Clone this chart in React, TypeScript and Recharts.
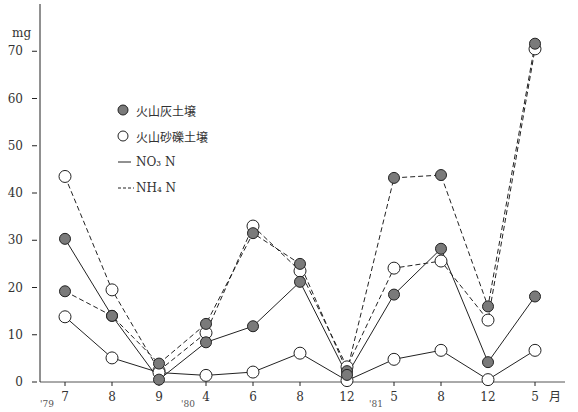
import React from 'react';
import { LineChart, Line, XAxis, YAxis } from 'recharts';

// sampling months, Jul '79 – May '81
const months = ['7', '8', '9', '4', '6', '8', '12', '5', '8', '12', '5'];
const years = ["'79", '', '', "'80", '', '', '', "'81", '', '', ''];

// mg
const ashNO3 = [30.3, 14, 0.5, 8.4, 11.8, 21.2, 1.5, 18.5, 28.2, 4.2, 18.1];
const ashNH4 = [19.2, 14, 3.9, 12.3, 31.5, 25, 2.3, 43.2, 43.8, 16, 71.6];
const gravelNO3 = [13.8, 5.1, 2, 1.4, 2.1, 6.1, 0.3, 4.8, 6.7, 0.5, 6.7];
const gravelNH4 = [43.5, 19.5, 2.4, 10.4, 33, 23.5, 3.2, 24.1, 25.6, 13.1, 70.5];

const yTicks = [0, 10, 20, 30, 40, 50, 60, 70];

const INK = '#222';
const ASH_FILL = '#7a7a7a';
const SERIF = '"DejaVu Serif", "Liberation Serif", serif';
const CJK = '"Noto Sans CJK JP", sans-serif';

const data = months.map((m, i) => ({
  idx: i,
  month: m,
  year: years[i],
  ashNO3: ashNO3[i],
  ashNH4: ashNH4[i],
  gravelNO3: gravelNO3[i],
  gravelNH4: gravelNH4[i],
}));

const AshDot = (props: any) => {
  const { cx, cy } = props;
  if (cx == null || cy == null) return null;
  return <circle cx={cx} cy={cy} r={5.5} fill={ASH_FILL} stroke={INK} strokeWidth={1} />;
};

const GravelDot = (props: any) => {
  const { cx, cy } = props;
  if (cx == null || cy == null) return null;
  return <circle cx={cx} cy={cy} r={6} fill="#fff" stroke={INK} strokeWidth={1} />;
};

const YTick = (props: any) => {
  const { x, y, payload } = props;
  return (
    <g>
      <line x1={x} y1={y} x2={x + 5} y2={y} stroke={INK} strokeWidth={1} />
      <text x={x - 9} y={y + 4} textAnchor="end" fontSize={12} fontFamily={SERIF} fill="#333">
        {payload.value}
      </text>
    </g>
  );
};

const XTick = (props: any) => {
  const { x, y, payload } = props;
  const i = payload.value as number;
  return (
    <g>
      <text x={x} y={y + 13} textAnchor="middle" fontSize={12} fontFamily={SERIF} fill="#333">
        {months[i]}
      </text>
      {years[i] && (
        <text x={x - 18} y={y + 19} textAnchor="middle" fontSize={9} fontFamily={SERIF} fill="#555">
          {years[i]}
        </text>
      )}
      {i === months.length - 1 && (
        <text x={x + 14} y={y + 13} textAnchor="start" fontSize={12} fontFamily={CJK} fill="#333">
          月
        </text>
      )}
    </g>
  );
};

const legendRow: React.CSSProperties = {
  display: 'flex',
  alignItems: 'center',
  height: 26,
  fontSize: 12,
  color: '#333',
};

const Legend = () => (
  <div style={{ position: 'absolute', left: 117, top: 97 }}>
    <div style={legendRow}>
      <svg width={19} height={14}>
        <circle cx={6} cy={7} r={5} fill={ASH_FILL} stroke={INK} />
      </svg>
      <span style={{ fontFamily: CJK }}>火山灰土壌</span>
    </div>
    <div style={legendRow}>
      <svg width={19} height={14}>
        <circle cx={6} cy={7} r={5} fill="#fff" stroke={INK} />
      </svg>
      <span style={{ fontFamily: CJK }}>火山砂礫土壌</span>
    </div>
    <div style={legendRow}>
      <svg width={19} height={14}>
        <line x1={1} y1={7} x2={14} y2={7} stroke={INK} />
      </svg>
      <span style={{ fontFamily: SERIF }}>NO₃ N</span>
    </div>
    <div style={legendRow}>
      <svg width={19} height={14}>
        <line x1={1} y1={7} x2={17} y2={7} stroke={INK} strokeDasharray="3 2" />
      </svg>
      <span style={{ fontFamily: SERIF }}>NH₄ N</span>
    </div>
  </div>
);

export default function App() {
  return (
    <div style={{ position: 'absolute', left: 0, top: 0, width: 578, height: 412, background: '#fff' }}>
      <LineChart width={578} height={412} data={data} margin={{ top: 4, right: 13, bottom: 0, left: 0 }}>
        <XAxis
          dataKey="idx"
          type="category"
          padding={{ left: 25, right: 30 }}
          height={30}
          stroke="#555"
          tickLine={{ stroke: INK }}
          tickSize={4}
          tick={<XTick />}
          interval={0}
        />
        <YAxis
          domain={[0, 80]}
          ticks={yTicks}
          width={40}
          stroke={INK}
          tickLine={false}
          tick={<YTick />}
          label={{ value: 'mg', position: 'insideTopLeft', offset: 0, dx: 12, dy: 24, fontSize: 12, fontFamily: SERIF, fill: '#333' }}
        />
        <Line dataKey="gravelNH4" stroke={INK} strokeWidth={1} strokeDasharray="5 3" dot={<GravelDot />} isAnimationActive={false} />
        <Line dataKey="gravelNO3" stroke={INK} strokeWidth={1} dot={<GravelDot />} isAnimationActive={false} />
        <Line dataKey="ashNH4" stroke={INK} strokeWidth={1} strokeDasharray="5 3" dot={<AshDot />} isAnimationActive={false} />
        <Line dataKey="ashNO3" stroke={INK} strokeWidth={1} dot={<AshDot />} isAnimationActive={false} />
      </LineChart>
      <Legend />
    </div>
  );
}
